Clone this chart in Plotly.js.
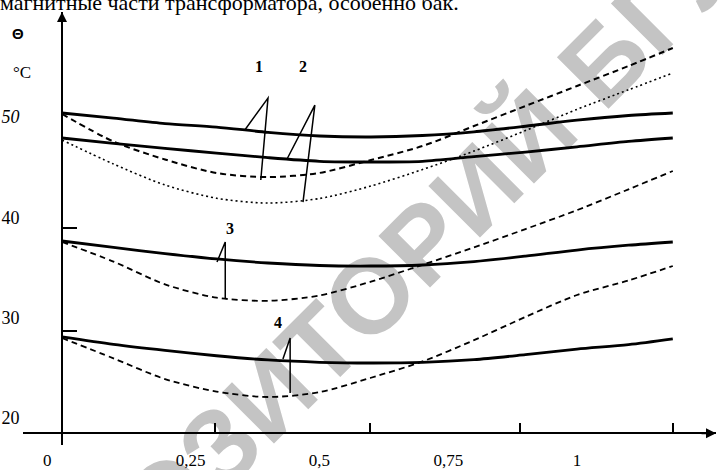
<!DOCTYPE html>
<html>
<head>
<meta charset="utf-8">
<script src="https://cdn.plot.ly/plotly-3.0.1.min.js"></script>
<style>html,body{margin:0;padding:0;background:#fff;}#chart{width:720px;height:470px;}</style>
</head>
<body>
<div id="chart"></div>
<script>
// ---- data ----
const load = [0, 0.1, 0.2, 0.3, 0.4, 0.5, 0.6, 0.7, 0.8, 0.9, 1.0, 1.1, 1.186];
const theta1Solid = [50.39, 49.89, 49.34, 48.99, 48.46, 48.10, 48.00, 48.15, 48.52, 49.07, 49.67, 50.14, 50.39];
const theta1Dash  = [50.29, 47.55, 45.76, 44.41, 44.01, 44.42, 45.71, 47.10, 49.09, 51.09, 53.08, 55.07, 56.86];
const theta2Solid = [47.90, 47.36, 46.86, 46.40, 45.94, 45.58, 45.51, 45.58, 46.05, 46.50, 47.02, 47.56, 47.90];
const theta2Dot   = [47.70, 45.31, 43.22, 41.90, 41.42, 41.87, 43.12, 44.76, 46.60, 48.64, 50.75, 52.70, 54.37];
const theta3Solid = [37.64, 37.00, 36.39, 35.85, 35.45, 35.20, 35.15, 35.25, 35.59, 36.13, 36.74, 37.22, 37.54];
const theta3Dash  = [37.54, 35.59, 33.32, 32.00, 31.68, 32.21, 33.59, 35.27, 37.00, 38.83, 40.71, 42.79, 44.61];
const theta4Solid = [28.08, 27.34, 26.74, 26.21, 25.79, 25.56, 25.49, 25.55, 25.82, 26.32, 26.87, 27.31, 27.88];
const theta4Dash  = [27.98, 25.95, 23.89, 22.64, 22.10, 22.58, 24.02, 25.64, 27.76, 30.08, 32.26, 33.71, 35.15];

const xTickVals = [0.25, 0.5, 0.75, 1];
const xTickText = ['0,25', '0,5', '0,75', '1'];
const xMarkVals = [0.297, 0.598, 0.889, 1.186];
const yTickVals = [20, 30, 40, 50];
const yTickText = ['20', '30', '40', '<i>50</i>'];
const yMarkVals = [38.93, 28.67];

const curveLabels = ['1', '2', '3', '4'];
const labelX = [0.383, 0.468, 0.326, 0.419];
const labelY = [55.07, 55.07, 38.93, 29.57];
// leader lines: [legA, apex, legB]
const leaderX = [[0.355, 0.400, 0.386], [0.437, 0.491, 0.468], [0.301, 0.317, 0.317], [0.429, 0.443, 0.443]];
const leaderY = [[48.70, 51.88, 43.72], [45.81, 51.18, 41.52], [35.55, 37.54, 31.96], [25.89, 27.98, 22.50]];

const topText = 'магнитные части трансформатора, особенно бак.';
const watermark = 'РЕПОЗИТОРИЙ БГУ';

// ---- layout geometry ----
const W = 720, H = 470, M = {l: 23, r: 4, t: 12, b: 25};
const pw = W - M.l - M.r, ph = H - M.t - M.b;
const px2paperX = p => (p - M.l) / pw;
const px2paperY = p => (H - M.b - p) / ph;
const xRange = [-0.0757, 1.2699];
const yRange = [17.32, 60.45];
const xAxisAt = 18.5;

const serif = 'Liberation Serif, Times New Roman, serif';
const sans = 'Liberation Sans, Arial, sans-serif';

function line(y, dash, width) {
  return {x: load, y: y, type: 'scatter', mode: 'lines', hoverinfo: 'skip',
    line: {color: '#000', width: width, dash: dash, shape: 'spline', smoothing: 0.8}};
}
const traces = [
  line(theta1Solid, 'solid', 2.8),
  line(theta2Solid, 'solid', 2.8),
  line(theta3Solid, 'solid', 2.8),
  line(theta4Solid, 'solid', 2.8),
  line(theta1Dash, '6px,4px', 2),
  line(theta2Dot, '2px,3px', 1.6),
  line(theta3Dash, '6px,4px', 1.8),
  line(theta4Dash, '6px,4px', 1.8)
];

const shapes = [];
// watermark (under the curves)
const wmX = 345, wmY = 306;
shapes.push({type: 'rect', xref: 'paper', yref: 'paper', layer: 'below',
  x0: px2paperX(wmX - 10), x1: px2paperX(wmX + 10), y0: px2paperY(wmY + 10), y1: px2paperY(wmY - 10),
  line: {width: 0}, fillcolor: 'rgba(0,0,0,0)',
  label: {text: '<b>' + watermark + '</b>', textposition: 'middle center', textangle: -45,
    font: {family: sans, size: 106, color: '#c4c4c4'}}});
// leader lines
leaderX.forEach((xs, i) => {
  const ys = leaderY[i];
  shapes.push({type: 'path', xref: 'x', yref: 'y',
    path: `M${xs[0]},${ys[0]} L${xs[1]},${ys[1]} L${xs[2]},${ys[2]}`,
    line: {color: '#000', width: 1.5}});
});

const annotations = [];
curveLabels.forEach((t, i) => annotations.push({x: labelX[i], y: labelY[i], xref: 'x', yref: 'y',
  xanchor: 'center', yanchor: 'middle',
  text: '<b>' + t + '</b>', showarrow: false, font: {family: serif, size: 16, color: '#000'}}));
// axis arrows
annotations.push({x: xRange[1], y: xAxisAt, xref: 'x', yref: 'y', text: '', showarrow: true,
  ax: -16, ay: 0, arrowhead: 2, arrowsize: 1, arrowwidth: 2, arrowcolor: '#000', standoff: 0});
annotations.push({x: 0, y: yRange[1], xref: 'x', yref: 'y', text: '', showarrow: true,
  ax: 0, ay: 16, arrowhead: 2, arrowsize: 1, arrowwidth: 2, arrowcolor: '#000', standoff: 0});
// axis captions
function paperText(text, px, py, font, xanchor) {
  annotations.push({x: px2paperX(px), y: px2paperY(py), xref: 'paper', yref: 'paper', text: text,
    xanchor: xanchor || 'center', yanchor: 'middle', showarrow: false, font: font});
}
paperText('<b>Θ</b>', 18, 34, {family: sans, size: 15, color: '#000'});
paperText('°C', 22, 72, {family: serif, size: 17, color: '#000'});
paperText('0', 47, 461, {family: serif, size: 17, color: '#000'});
// cropped line of text at the top of the page
paperText(topText, -2, 3, {family: serif, size: 22, color: '#000'}, 'left');

const layout = {
  width: W, height: H, margin: M, showlegend: false,
  paper_bgcolor: '#fff', plot_bgcolor: '#fff',
  xaxis: {range: xRange, anchor: 'free', position: (xAxisAt - yRange[0]) / (yRange[1] - yRange[0]),
    showgrid: false, zeroline: false, showline: true, linecolor: '#000', linewidth: 2,
    tickmode: 'array', tickvals: xTickVals, ticktext: xTickText, ticks: '',
    ticklabelstandoff: 11, tickfont: {family: serif, size: 17, color: '#000'},
    minor: {tickmode: 'array', tickvals: xMarkVals, ticks: 'inside', ticklen: 9, tickwidth: 2, tickcolor: '#000', showgrid: false}},
  yaxis: {range: yRange, anchor: 'free', position: (0 - xRange[0]) / (xRange[1] - xRange[0]),
    showgrid: false, zeroline: false, showline: true, linecolor: '#000', linewidth: 2,
    tickmode: 'array', tickvals: yTickVals, ticktext: yTickText, ticks: '',
    ticklabelstandoff: 38, tickfont: {family: serif, size: 18, color: '#000'},
    minor: {tickmode: 'array', tickvals: yMarkVals, ticks: 'inside', ticklen: 14, tickwidth: 2, tickcolor: '#000', showgrid: false}},
  shapes: shapes,
  annotations: annotations
};

Plotly.newPlot('chart', traces, layout, {staticPlot: true, displayModeBar: false});
</script>
</body>
</html>
